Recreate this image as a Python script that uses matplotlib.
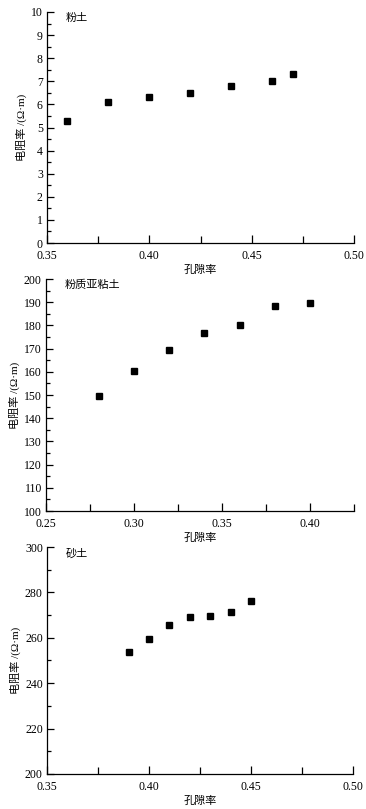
import matplotlib
matplotlib.use("Agg")
import matplotlib.pyplot as plt
from matplotlib.ticker import MultipleLocator, FormatStrFormatter

plt.rcParams['font.family'] = ['Liberation Serif', 'Noto Sans CJK SC']
plt.rcParams['font.size'] = 8.5

# 粉土
silt_por = [0.36, 0.38, 0.40, 0.42, 0.44, 0.46, 0.47]
silt_res = [5.3, 6.1, 6.3, 6.5, 6.8, 7.0, 7.3]

# 粉质亚粘土
clay_por = [0.28, 0.30, 0.32, 0.34, 0.36, 0.38, 0.40]
clay_res = [149.7, 160.2, 169.5, 176.8, 180.3, 188.2, 189.6]

# 砂土
sand_por = [0.39, 0.40, 0.41, 0.42, 0.43, 0.44, 0.45]
sand_res = [253.8, 259.5, 265.5, 269.0, 269.5, 271.4, 276.0]

W, H = 366, 809
fig = plt.figure(figsize=(W / 100, H / 100), dpi=100)


def px_axes(left, right, top, bottom):
    return fig.add_axes([left / W, 1 - bottom / H, (right - left) / W, (bottom - top) / H])


panels = [
    (px_axes(47, 354, 12, 243), silt_por, silt_res, '粉土',
     (0.35, 0.50), (0, 10), 1, 0.5),
    (px_axes(46, 354, 279, 511), clay_por, clay_res, '粉质亚粘土',
     (0.25, 0.425), (100, 200), 10, 5),
    (px_axes(47, 353, 547, 774), sand_por, sand_res, '砂土',
     (0.35, 0.50), (200, 300), 20, 10),
]

for ax, x, y, name, xlim, ylim, ymaj, ymin in panels:
    ax.plot(x, y, 's', color='black', ms=4.8, mec='black')
    ax.set_xlim(*xlim)
    ax.set_ylim(*ylim)
    ax.xaxis.set_major_locator(MultipleLocator(0.05))
    ax.xaxis.set_minor_locator(MultipleLocator(0.025))
    ax.xaxis.set_major_formatter(FormatStrFormatter('%.2f'))
    ax.yaxis.set_major_locator(MultipleLocator(ymaj))
    ax.yaxis.set_minor_locator(MultipleLocator(ymin))
    ax.yaxis.set_major_formatter(FormatStrFormatter('%d'))
    for s in ['top', 'right']:
        ax.spines[s].set_visible(False)
    for s in ['left', 'bottom']:
        ax.spines[s].set_linewidth(0.9)
    ax.tick_params(which='both', direction='in', top=False, right=False, width=0.9)
    ax.tick_params(axis='y', which='major', length=5, pad=3)
    ax.tick_params(axis='y', which='minor', length=3)
    ax.tick_params(axis='x', which='major', length=6, pad=5)
    ax.tick_params(axis='x', which='minor', length=5)
    ax.set_xlabel('孔隙率', fontsize=8, labelpad=2)
    ax.set_ylabel('电阻率 /(Ω·m)', fontsize=8, labelpad=3)
    ax.text(0.06, 0.995, name, transform=ax.transAxes, fontsize=8, va='top', ha='left')

fig.savefig('out.png', dpi=100)
